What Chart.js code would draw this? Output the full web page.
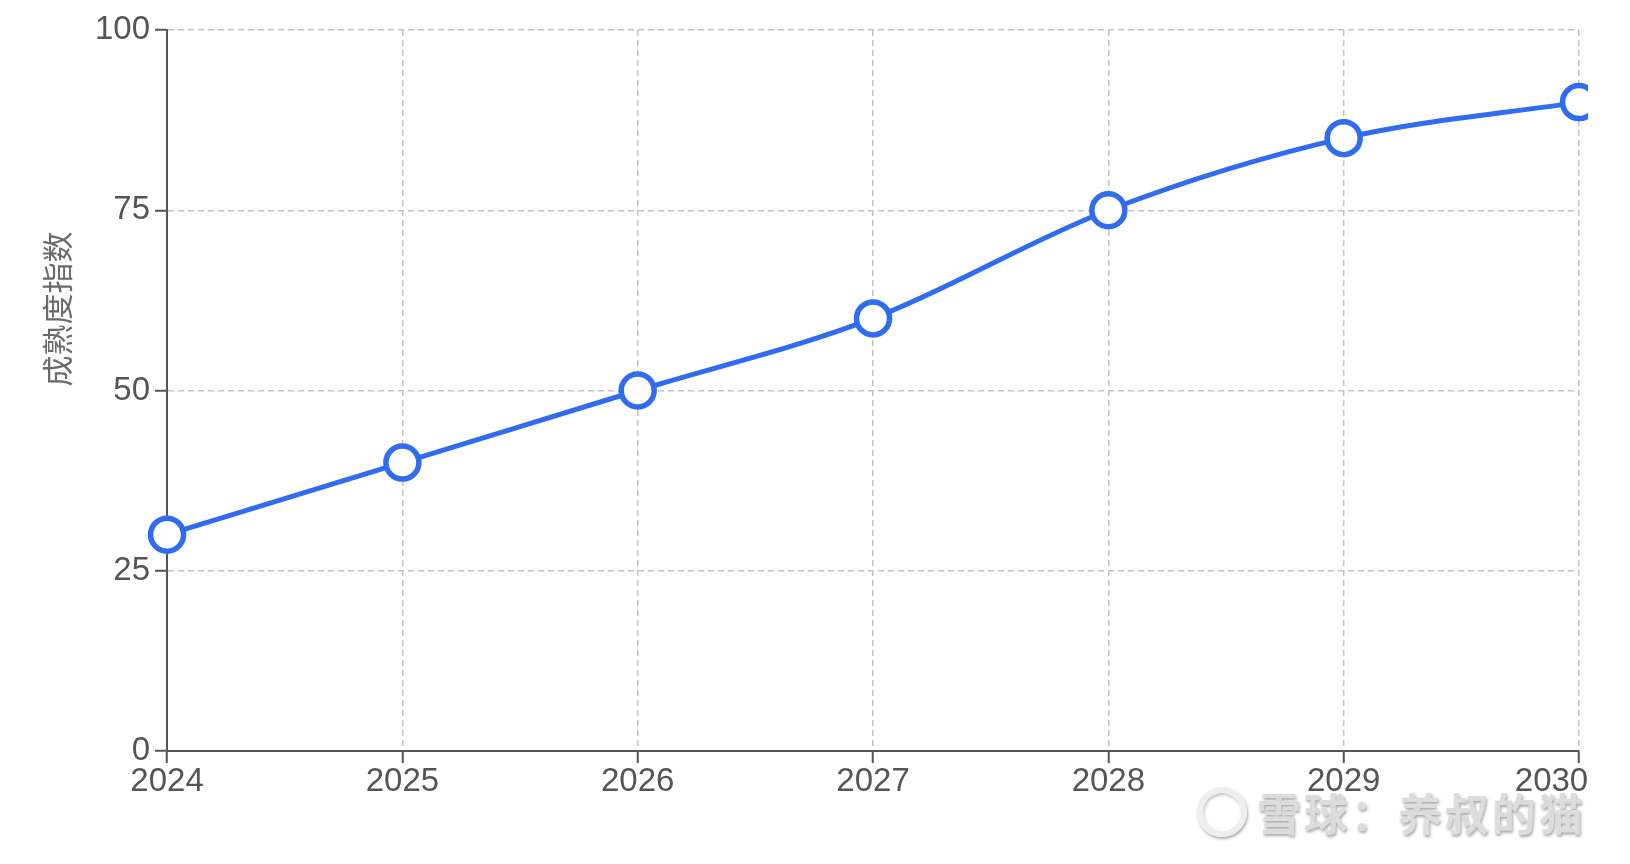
<!DOCTYPE html>
<html>
<head>
<meta charset="utf-8">
<script src="https://cdn.jsdelivr.net/npm/chart.js@4/dist/chart.umd.min.js"></script>
<style>
  html, body { margin: 0; padding: 0; background: #fff; }
  #wrap { position: relative; width: 1630px; height: 864px; }
  #mark {
    position: absolute; left: 1197px; top: 780px;
    font-family: "Noto Sans CJK SC", sans-serif; font-size: 44px; font-weight: 700;
    color: #dcdcdc; letter-spacing: 3px; white-space: nowrap;
    text-shadow: 1px 2px 3px rgba(0,0,0,0.35);
    display: flex; align-items: center;
  }
  #mark .logo {
    width: 50px; height: 50px; border-radius: 50%; border: 6px solid #eee;
    box-shadow: 1px 2px 3px rgba(0,0,0,0.35), inset 1px 2px 3px rgba(0,0,0,0.25);
    margin-right: 10px; box-sizing: border-box;
  }
</style>
</head>
<body>
<div id="wrap">
  <canvas id="grafico" width="1630" height="864"></canvas>
  <div id="mark"><span class="logo"></span>雪球：养叔的猫</div>
</div>
<script>
const anos = ['2024', '2025', '2026', '2027', '2028', '2029', '2030'];
const indice = [30, 40, 50, 60, 75, 85, 90];
const yTicks = [0, 25, 50, 75, 100];
const tituloY = '成熟度指数';

const azul = '#2f6cf1';
const texto = '#555555';

// titulo do eixo y desenhado a mao (fica acima do centro no original)
const tituloPlugin = {
    id: 'tituloY',
    afterDraw(chart) {
        const area = chart.chartArea;
        const c = chart.ctx;
        c.save();
        c.translate(57, area.top + (area.bottom - area.top) * 0.387);
        c.rotate(-Math.PI / 2);
        c.font = '31px "Noto Sans CJK SC", sans-serif';
        c.fillStyle = '#6a6a6a';
        c.textAlign = 'center';
        c.textBaseline = 'middle';
        c.fillText(tituloY, 0, 0);
        c.restore();
    }
};

const ctx = document.getElementById('grafico').getContext('2d');

const grafico = new Chart(ctx, {
    type: 'line',
    data: {
        labels: anos,
        datasets: [{
            label: tituloY,
            data: indice,
            borderColor: azul,
            borderWidth: 5,
            cubicInterpolationMode: 'monotone',
            pointRadius: 16.5,
            pointBorderWidth: 5.5,
            pointBackgroundColor: '#ffffff',
            pointBorderColor: azul,
            clip: { left: 30, top: 30, right: 9, bottom: 30 }
        }]
    },
    options: {
        responsive: false,
        animation: false,
        layout: {
            padding: { left: 90, top: 30, right: 0, bottom: 64 }
        },
        plugins: {
            legend: { display: false },
            tooltip: { enabled: false }
        },
        scales: {
            x: {
                offset: false,
                grid: {
                    color: '#c4c4c4',
                    lineWidth: 1.5,
                    tickColor: texto,
                    tickWidth: 2,
                    tickLength: 12
                },
                border: { color: texto, width: 2, dash: [6, 4] },
                ticks: {
                    color: texto,
                    padding: 2,
                    maxRotation: 0,
                    autoSkip: false,
                    font: { family: '"Liberation Sans", sans-serif', size: 33, lineHeight: 1.0 },
                    // o ultimo rotulo fica puxado para dentro da tela no original
                    callback: function (valor, i) {
                        const rotulo = anos[i];
                        return i === anos.length - 1 ? rotulo + '      ' : rotulo;
                    }
                },
                afterFit: function (eixo) {
                    eixo.paddingRight = 51;
                }
            },
            y: {
                min: 0,
                max: 100,
                afterBuildTicks: function (eixo) {
                    eixo.ticks = yTicks.map(v => ({ value: v }));
                },
                grid: {
                    color: '#c4c4c4',
                    lineWidth: 1.5,
                    tickColor: texto,
                    tickWidth: 2,
                    tickLength: 12
                },
                border: { color: texto, width: 2, dash: [6, 4] },
                ticks: {
                    color: texto,
                    padding: 5,
                    font: { family: '"Liberation Sans", sans-serif', size: 33 }
                }
            }
        }
    },
    plugins: [tituloPlugin]
});
</script>
</body>
</html>
